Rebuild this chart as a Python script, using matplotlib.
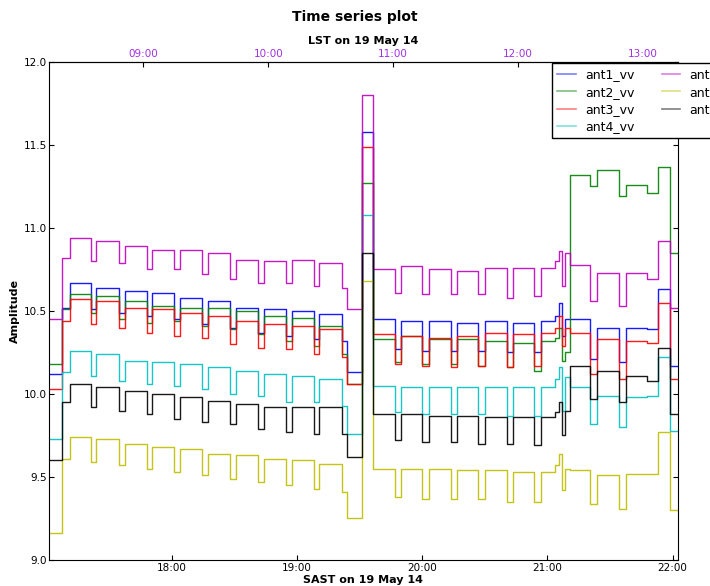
import matplotlib
matplotlib.use("Agg")
import matplotlib.pyplot as plt
from matplotlib.ticker import FixedLocator, FuncFormatter, MultipleLocator

# segment edges in SAST hours (step levels hold between consecutive edges)
edges = [17.021, 17.125, 17.186,
         17.351, 17.396, 17.577, 17.623, 17.799, 17.843, 18.019, 18.065,
         18.243, 18.291, 18.464, 18.510, 18.690, 18.736, 18.911, 18.957,
         19.135, 19.177,
         19.356, 19.401, 19.516, 19.609,
         19.782, 19.830, 20.000, 20.054, 20.227, 20.280, 20.447, 20.501,
         20.674, 20.727, 20.896, 20.952,
         21.060, 21.090, 21.113, 21.140, 21.180, 21.339, 21.395, 21.571,
         21.627, 21.792, 21.883, 21.978, 22.040]

# amplitude per segment
ant1_vv = [10.12, 10.52,
           10.67, 10.51, 10.64, 10.49, 10.62, 10.47, 10.61, 10.45, 10.58, 10.42,
           10.56, 10.40, 10.52, 10.37, 10.51, 10.35, 10.50, 10.33, 10.48,
           10.32, 10.13, 11.58,
           10.45, 10.27, 10.44, 10.26, 10.44, 10.26, 10.43, 10.26, 10.44, 10.25,
           10.43, 10.25, 10.44,
           10.47, 10.55, 10.35, 10.45, 10.45, 10.21, 10.40, 10.19, 10.40, 10.39,
           10.63, 10.17]
ant2_vv = [10.18, 10.51,
           10.60, 10.49, 10.59, 10.45, 10.56, 10.43, 10.53, 10.44, 10.52, 10.41,
           10.52, 10.39, 10.50, 10.36, 10.47, 10.32, 10.46, 10.29, 10.41,
           10.24, 10.06, 11.27,
           10.33, 10.19, 10.35, 10.18, 10.33, 10.18, 10.33, 10.17, 10.32, 10.16,
           10.31, 10.14, 10.32,
           10.34, 10.40, 10.20, 10.25, 11.32, 11.25, 11.35, 11.19, 11.26, 11.21,
           11.37, 10.85]
ant3_vv = [10.03, 10.44,
           10.57, 10.42, 10.56, 10.40, 10.52, 10.37, 10.51, 10.35, 10.49, 10.34,
           10.47, 10.30, 10.44, 10.28, 10.42, 10.27, 10.41, 10.24, 10.39,
           10.22, 10.06, 11.49,
           10.36, 10.18, 10.35, 10.17, 10.34, 10.16, 10.35, 10.17, 10.37, 10.16,
           10.36, 10.17, 10.37,
           10.40, 10.47, 10.29, 10.40, 10.37, 10.12, 10.33, 10.09, 10.32, 10.31,
           10.55, 10.09]
ant4_vv = [9.73, 10.13,
           10.26, 10.11, 10.24, 10.08, 10.20, 10.06, 10.19, 10.05, 10.18, 10.03,
           10.16, 10.00, 10.14, 9.99, 10.12, 9.95, 10.11, 9.95, 10.09,
           9.93, 9.76, 11.08,
           10.05, 9.89, 10.04, 9.88, 10.04, 9.88, 10.04, 9.88, 10.04, 9.87,
           10.04, 9.87, 10.04,
           10.09, 10.16, 9.90, 10.10, 10.04, 9.82, 9.99, 9.80, 9.98, 9.99,
           10.22, 9.78]
ant5_vv = [10.45, 10.82,
           10.94, 10.80, 10.92, 10.79, 10.89, 10.75, 10.87, 10.75, 10.87, 10.72,
           10.85, 10.69, 10.81, 10.67, 10.80, 10.67, 10.81, 10.65, 10.79,
           10.64, 10.51, 11.80,
           10.75, 10.61, 10.77, 10.60, 10.75, 10.60, 10.74, 10.60, 10.76, 10.58,
           10.76, 10.59, 10.76,
           10.80, 10.86, 10.65, 10.85, 10.78, 10.56, 10.73, 10.53, 10.73, 10.69,
           10.92, 10.52]
ant6_vv = [9.16, 9.61,
           9.74, 9.59, 9.73, 9.57, 9.70, 9.55, 9.68, 9.53, 9.67, 9.51,
           9.64, 9.49, 9.63, 9.47, 9.61, 9.45, 9.60, 9.43, 9.58,
           9.41, 9.25, 10.68,
           9.55, 9.38, 9.55, 9.37, 9.55, 9.37, 9.54, 9.37, 9.54, 9.35,
           9.53, 9.35, 9.53,
           9.57, 9.64, 9.42, 9.55, 9.54, 9.34, 9.51, 9.31, 9.52, 9.52,
           9.77, 9.30]
ant7_vv = [9.60, 9.95,
           10.06, 9.92, 10.04, 9.90, 10.02, 9.88, 10.00, 9.85, 9.98, 9.83,
           9.96, 9.82, 9.94, 9.79, 9.92, 9.77, 9.92, 9.76, 9.92,
           9.76, 9.62, 10.85,
           9.88, 9.72, 9.88, 9.71, 9.87, 9.71, 9.87, 9.70, 9.86, 9.70,
           9.86, 9.69, 9.86,
           9.89, 9.95, 9.75, 9.90, 10.17, 9.97, 10.14, 9.95, 10.11, 10.08,
           10.28, 9.88]

labels = ['ant1_vv', 'ant2_vv', 'ant3_vv', 'ant4_vv', 'ant5_vv', 'ant6_vv', 'ant7_vv']
series = [ant1_vv, ant2_vv, ant3_vv, ant4_vv, ant5_vv, ant6_vv, ant7_vv]
colors = ['b', 'g', 'r', 'c', 'm', 'y', 'k']

sast_ticks = [18, 19, 20, 21, 22]
lst_ticks = [9, 10, 11, 12, 13]
lst_zero = 17.773       # SAST hour at which LST reads 09:00
sidereal = 1.0027379

fig = plt.figure(figsize=(7.1, 5.86), dpi=100)
ax = fig.add_axes([0.0694, 0.0444, 0.8851, 0.8498])

for vals, lab, col in zip(series, labels, colors):
    ax.plot(edges, vals + [vals[-1]], drawstyle='steps-post', color=col,
            lw=1.0, alpha=0.9, label=lab)

ax.set_xlim(17.021, 22.040)
ax.set_ylim(9.0, 12.0)
ax.yaxis.set_major_locator(MultipleLocator(0.5))
ax.yaxis.set_major_formatter(FuncFormatter(lambda v, p: f"{v:.1f}"))
ax.xaxis.set_major_locator(FixedLocator(sast_ticks))
ax.xaxis.set_major_formatter(FuncFormatter(lambda v, p: f"{int(round(v)):02d}:00"))
ax.tick_params(direction='in', length=3.5, labelsize=7.5, pad=2.5)
ax.tick_params(axis='y', right=True, pad=1.5)
ax.set_xlabel('SAST on 19 May 14', fontsize=8, fontweight='bold', labelpad=1)
ax.set_ylabel('Amplitude', fontsize=8, fontweight='bold', labelpad=3)

top = ax.secondary_xaxis(
    'top',
    functions=(lambda s: (s - lst_zero) * sidereal + 9,
               lambda l: (l - 9) / sidereal + lst_zero))
top.xaxis.set_major_locator(FixedLocator(lst_ticks))
top.xaxis.set_major_formatter(FuncFormatter(lambda v, p: f"{int(round(v)):02d}:00"))
top.tick_params(direction='in', length=3.5, labelsize=7.5, labelcolor='#a030e0', pad=2)
top.set_xlabel('LST on 19 May 14', fontsize=8, fontweight='bold', labelpad=4)

fig.suptitle('Time series plot', fontsize=10, fontweight='bold', y=0.971, va='center')

leg = ax.legend(loc='upper left', bbox_to_anchor=(0.7779, 0.892),
                bbox_transform=fig.transFigure, ncol=2, fontsize=9,
                labelspacing=0.35, handlelength=1.5, handletextpad=0.7,
                columnspacing=2.2, fancybox=False, framealpha=1,
                edgecolor='black', borderaxespad=0)
for h in leg.legend_handles:
    h.set_alpha(0.5)
    h.set_linewidth(1.2)

fig.savefig('out.png', dpi=100)
